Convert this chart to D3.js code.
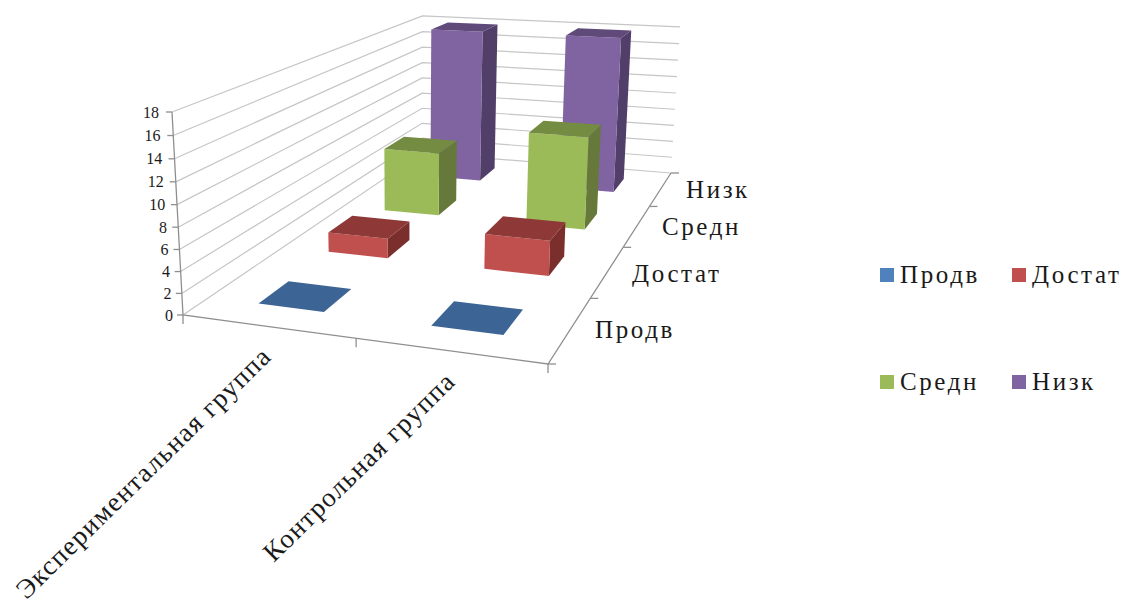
<!DOCTYPE html>
<html>
<head>
<meta charset="utf-8">
<script src="https://cdn.jsdelivr.net/npm/d3@7"></script>
<style>
  html, body { margin: 0; padding: 0; background: #fff; }
  svg { display: block; }
  text { font-family: "Liberation Serif", serif; fill: #1a1a1a; }
</style>
</head>
<body>
<svg id="chart" width="1122" height="608"></svg>
<script>
// Data
const groups = ["Экспериментальная группа", "Контрольная группа"];
const seriesNames = ["Продв", "Достат", "Средн", "Низк"];
const prodv  = [0, 0];
const dostat = [2, 3.5];
const sredn  = [7, 10];
const nizk   = [18, 18];
const valueTicks = [0, 2, 4, 6, 8, 10, 12, 14, 16, 18];

const seriesValues = [prodv, dostat, sredn, nizk];
const palette = [
  { front: "#4f81bd", top: "#3c6494", side: "#345580" },
  { front: "#c0504d", top: "#8e3937", side: "#7a2f2d" },
  { front: "#9bbb59", top: "#738c42", side: "#66793a" },
  { front: "#8064a2", top: "#5f4a79", side: "#513e69" }
];

// Perspective of the plot box: corners of the floor and two top corners.
const floor = { A: [183, 315], B: [548, 364], C: [671, 173], D: [422, 153] };
const topFrontLeft = [172, 112], topBackRight = [680, 27];

function buildProjection() {
  const [x0, y0] = floor.A, [x1, y1] = floor.B, [x2, y2] = floor.C, [x3, y3] = floor.D;
  const dx1 = x1 - x2, dx2 = x3 - x2, sx = x0 - x1 + x2 - x3;
  const dy1 = y1 - y2, dy2 = y3 - y2, sy = y0 - y1 + y2 - y3;
  const den = dx1 * dy2 - dx2 * dy1;
  const g = (sx * dy2 - dx2 * sy) / den, h = (dx1 * sy - sx * dy1) / den;
  const a = x1 - x0 + g * x1, b = x3 - x0 + h * x3, c = x0;
  const d = y1 - y0 + g * y1, e = y3 - y0 + h * y3, f = y0;
  const [x4, y4] = topFrontLeft, [x6] = topBackRight;
  const w11 = g + h + 1;
  const r = (x6 * w11 - a - b - x4) / (x4 - x6);
  const p = x4 * (1 + r) - c, q = y4 * (1 + r) - f;
  return (u, v, z) => {
    const w = g * u + h * v + 1 + r * z;
    return [(a * u + b * v + c + p * z) / w, (d * u + e * v + f + q * z) / w];
  };
}
const project = buildProjection();

// Scales along the three box axes
const uBand = d3.scaleBand().domain(d3.range(groups.length)).range([0, 1]);
const vBand = d3.scaleBand().domain(d3.range(seriesNames.length)).range([0, 1]);
const zScale = d3.scaleLinear().domain([0, 18]).range([0, 1]);

const barU = 0.195, barV = 0.2; // half of a bar's footprint as a share of its band

const svg = d3.select("#chart");
const line = d3.line();
const poly = pts => line(pts) + "Z";

// Wall gridlines
const grid = svg.append("g").attr("fill", "none").attr("stroke", "#c6c6c6").attr("stroke-width", 1.2);
valueTicks.forEach(t => {
  const z = zScale(t);
  grid.append("path").attr("d", line([project(0, 0, z), project(0, 1, z), project(1, 1, z)]));
});

// Axes
const axis = svg.append("g").attr("fill", "none").attr("stroke", "#8f8f8f").attr("stroke-width", 1.3);
axis.append("path").attr("d", line([project(0, 0, 1), project(0, 0, 0), project(1, 0, 0), project(1, 1, 0)]));
valueTicks.forEach(t => {
  const [x, y] = project(0, 0, zScale(t));
  axis.append("path").attr("d", line([[x - 6, y], [x, y]]));
  svg.append("text").attr("x", x - 13 + 3 * (1 - t / 18)).attr("y", y + 5.5)
    .attr("text-anchor", "end").attr("font-size", 16).text(t);
});
d3.range(groups.length + 1).forEach(i => {
  const [x, y] = project(i / groups.length, 0, 0);
  axis.append("path").attr("d", line([[x, y], [x, y + 9]]));
});
d3.range(seriesNames.length + 1).forEach(i => {
  const [x, y] = project(1, i / seriesNames.length, 0);
  axis.append("path").attr("d", line([[x, y], [x + 8, y]]));
});

// Bars, drawn back to front
const bars = svg.append("g");
d3.range(seriesNames.length).reverse().forEach(s => {
  groups.forEach((_, g) => {
    const uc = uBand(g) + uBand.bandwidth() / 2, vc = vBand(s) + vBand.bandwidth() / 2;
    const du = uBand.bandwidth() * barU, dv = vBand.bandwidth() * barV;
    const u0 = uc - du, u1 = uc + du, v0 = vc - dv, v1 = vc + dv;
    const z = zScale(seriesValues[s][g]);
    const col = palette[s];
    if (z > 0) {
      bars.append("path").attr("fill", col.side)
        .attr("d", poly([project(u1, v0, 0), project(u1, v1, 0), project(u1, v1, z), project(u1, v0, z)]));
      bars.append("path").attr("fill", col.front)
        .attr("d", poly([project(u0, v0, 0), project(u1, v0, 0), project(u1, v0, z), project(u0, v0, z)]));
    }
    bars.append("path").attr("fill", col.top)
      .attr("d", poly([project(u0, v0, z), project(u1, v0, z), project(u1, v1, z), project(u0, v1, z)]));
  });
});

// Series labels along the depth axis
const depthLabels = [[595, 338], [632, 282], [662, 235], [686, 198]];
seriesNames.forEach((name, i) => {
  svg.append("text").attr("x", depthLabels[i][0]).attr("y", depthLabels[i][1])
    .attr("font-size", 25).attr("letter-spacing", 2.6).text(name);
});

// Rotated group labels ending under their band
const groupLabelEnds = [[273, 358], [457, 383]];
groups.forEach((name, i) => {
  svg.append("text")
    .attr("transform", `translate(${groupLabelEnds[i][0]},${groupLabelEnds[i][1]}) rotate(-44.5)`)
    .attr("text-anchor", "end").attr("font-size", 27).attr("letter-spacing", 1.3).text(name);
});

// Legend
const legendPos = [[880, 268], [1012, 268], [880, 375], [1012, 375]];
seriesNames.forEach((name, i) => {
  const [x, y] = legendPos[i];
  svg.append("rect").attr("x", x).attr("y", y).attr("width", 14).attr("height", 14).attr("fill", palette[i].front);
  svg.append("text").attr("x", x + 20).attr("y", y + 15)
    .attr("font-size", 25).attr("letter-spacing", 2.6).text(name);
});
</script>
</body>
</html>
